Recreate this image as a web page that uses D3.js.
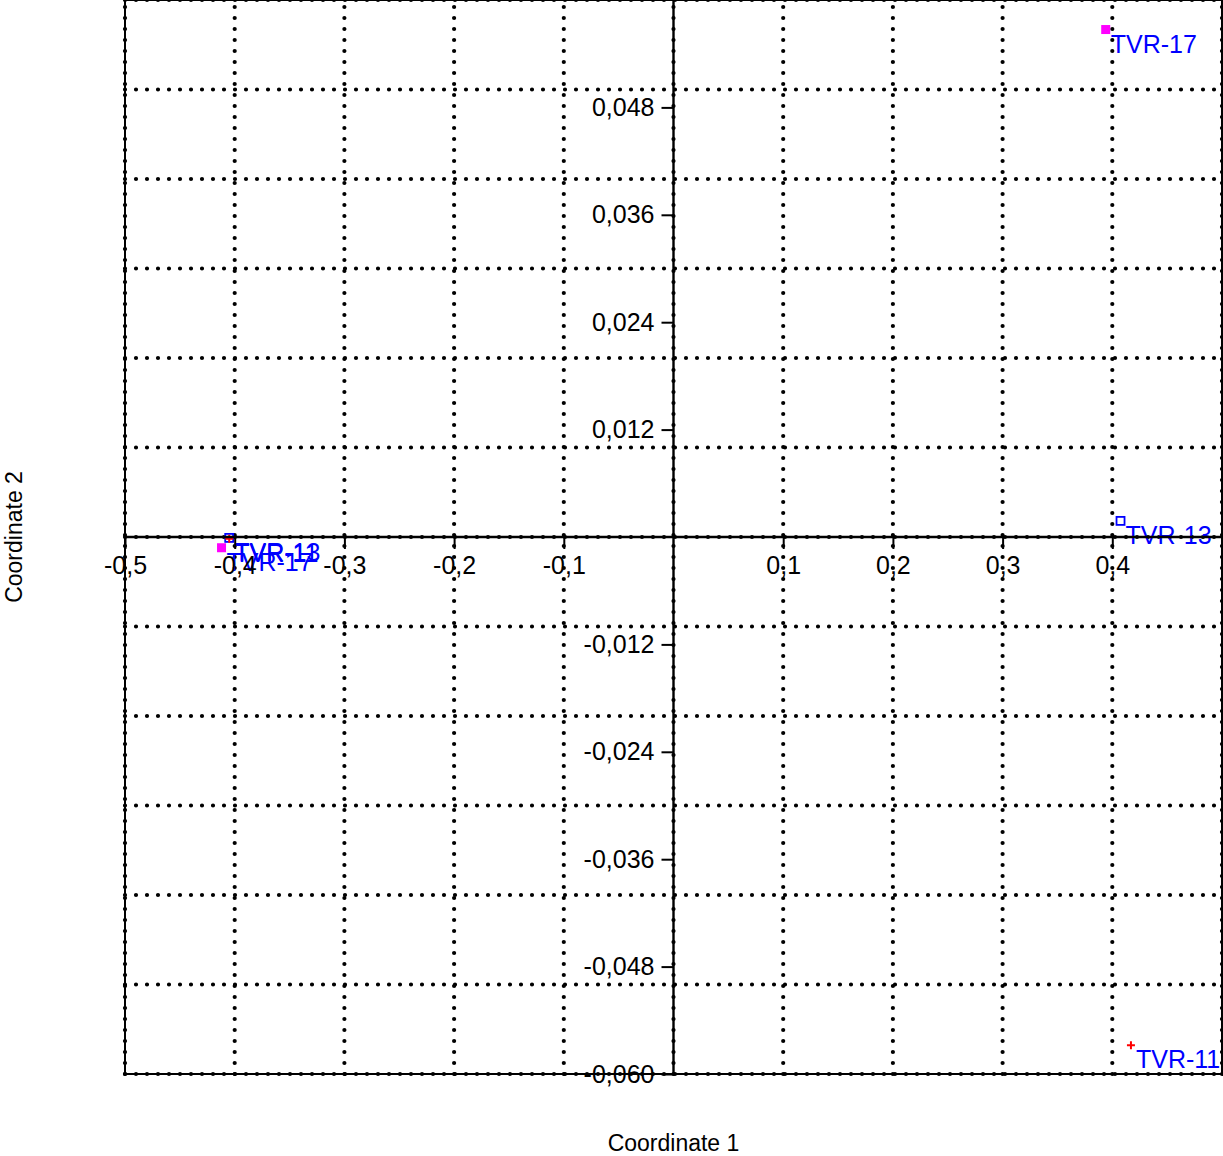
<!DOCTYPE html>
<html>
<head>
<meta charset="utf-8">
<script src="https://cdn.jsdelivr.net/npm/d3@7"></script>
<style>
  body { margin: 0; background: #fff; }
  text { font-family: "Liberation Sans", Arial, sans-serif; }
</style>
</head>
<body>
<div id="chart"></div>
<script>
// sample labels, coordinates
const names = ["TVR-17", "TVR-13", "TVR-11", "TVR-11", "TVR-13", "TVR-17"];
const coord1 = [0.394, 0.4075, 0.417, -0.405, -0.405, -0.412];
const coord2 = [0.0567, 0.0018, -0.0568, -0.0002, -0.0001, -0.0012];
const kinds = ["filled", "open", "plus", "plus", "open", "filled"];

const xTicks = [-0.5, -0.4, -0.3, -0.2, -0.1, 0.1, 0.2, 0.3, 0.4];
const yTicks = [0.048, 0.036, 0.024, 0.012, -0.012, -0.024, -0.036, -0.048, -0.060];
const xGrid = [-0.5, -0.4, -0.3, -0.2, -0.1, 0, 0.1, 0.2, 0.3, 0.4, 0.5];
const yGrid = [-0.06, -0.05, -0.04, -0.03, -0.02, -0.01, 0, 0.01, 0.02, 0.03, 0.04, 0.05, 0.06];

const W = 1223, H = 1156;
const pLeft = 125, pRight = 1222, pTop = 0, pBottom = 1074;

const locale = d3.formatLocale({ decimal: ",", thousands: ".", grouping: [3], currency: ["", ""], minus: "-" });
const fx = locale.format(".1f");
const fy = locale.format(".3f");

const x = d3.scaleLinear().domain([-0.5, 0.5]).range([pLeft, pRight]);
const y = d3.scaleLinear().domain([-0.06, 0.06]).range([pBottom, pTop]);

const svg = d3.select("#chart").append("svg")
  .attr("width", W)
  .attr("height", H);

// dotted grid
const grid = svg.append("g")
  .attr("stroke", "#000")
  .attr("stroke-width", 4.2)
  .attr("stroke-linecap", "round")
  .attr("stroke-dasharray", "0,11");

grid.selectAll(".vg")
  .data(xGrid)
  .join("line")
  .attr("class", "vg")
  .attr("x1", d => x(d)).attr("x2", d => x(d))
  .attr("y1", pBottom).attr("y2", pTop);

grid.selectAll(".hg")
  .data(yGrid)
  .join("line")
  .attr("class", "hg")
  .attr("y1", d => y(d)).attr("y2", d => y(d))
  .attr("x1", pLeft).attr("x2", pRight);

// frame
svg.append("rect")
  .attr("x", pLeft).attr("y", pTop)
  .attr("width", pRight - pLeft).attr("height", pBottom - pTop)
  .attr("fill", "none")
  .attr("stroke", "#000")
  .attr("stroke-width", 2);

// points
const pts = names.map((n, i) => ({ name: n, cx: coord1[i], cy: coord2[i], kind: kinds[i] }));

const marks = svg.append("g");
marks.selectAll("rect.filled")
  .data(pts.filter(d => d.kind === "filled"))
  .join("rect")
  .attr("class", "filled")
  .attr("x", d => x(d.cx) - 4.5).attr("y", d => y(d.cy) - 4.5)
  .attr("width", 9).attr("height", 9)
  .attr("fill", "#ff00ff");

marks.selectAll("rect.open")
  .data(pts.filter(d => d.kind === "open"))
  .join("rect")
  .attr("class", "open")
  .attr("x", d => x(d.cx) - 4).attr("y", d => y(d.cy) - 4)
  .attr("width", 8).attr("height", 8)
  .attr("fill", "none")
  .attr("stroke", "#0000ff")
  .attr("stroke-width", 1.8);

marks.selectAll("path.plus")
  .data(pts.filter(d => d.kind === "plus"))
  .join("path")
  .attr("class", "plus")
  .attr("d", d => {
    const px = x(d.cx), py = y(d.cy);
    return `M${px - 4},${py}H${px + 4}M${px},${py - 4}V${py + 4}`;
  })
  .attr("stroke", "#ff0000")
  .attr("stroke-width", 2);

svg.append("g").selectAll("text")
  .data(pts)
  .join("text")
  .attr("x", d => x(d.cx) + 5)
  .attr("y", d => y(d.cy) + 23)
  .attr("fill", "#0000ff")
  .attr("font-size", 25)
  .text(d => d.name);

// axes through the origin
const yAxis = d3.axisLeft(y)
  .tickValues(yTicks)
  .tickFormat(fy)
  .tickSize(12)
  .tickPadding(7);

const gy = svg.append("g")
  .attr("transform", `translate(${x(0)},0)`)
  .call(yAxis);

const xAxis = d3.axisBottom(x)
  .tickValues(xTicks)
  .tickFormat(fx)
  .tickSize(12)
  .tickPadding(7);

const gx = svg.append("g")
  .attr("transform", `translate(0,${y(0)})`)
  .call(xAxis);

[gx, gy].forEach(g => {
  g.select(".domain").remove();
  g.selectAll(".tick line").attr("stroke", "#000").attr("stroke-width", 2);
  g.selectAll(".tick text")
    .attr("fill", "#000")
    .attr("font-size", 25)
    .attr("font-family", "Liberation Sans, Arial, sans-serif");
});

svg.append("line")
  .attr("x1", pLeft).attr("x2", pRight)
  .attr("y1", y(0)).attr("y2", y(0))
  .attr("stroke", "#000").attr("stroke-width", 2.4);

svg.append("line")
  .attr("x1", x(0)).attr("x2", x(0))
  .attr("y1", pTop).attr("y2", pBottom)
  .attr("stroke", "#000").attr("stroke-width", 2.4);

// axis titles
svg.append("text")
  .attr("x", x(0))
  .attr("y", 1151)
  .attr("text-anchor", "middle")
  .attr("font-size", 23)
  .text("Coordinate 1");

svg.append("text")
  .attr("transform", `translate(22,${(pTop + pBottom) / 2}) rotate(-90)`)
  .attr("text-anchor", "middle")
  .attr("font-size", 23)
  .text("Coordinate 2");
</script>
</body>
</html>
